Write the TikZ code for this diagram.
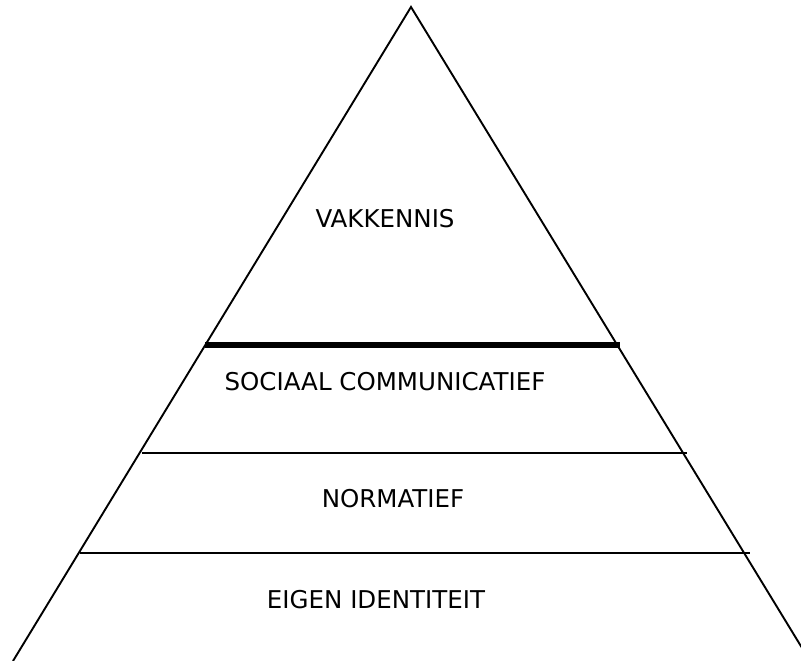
\documentclass[tikz,border=0pt]{standalone}
\usepackage{fontspec}
\setmainfont{DejaVu Sans}
\begin{document}
\begin{tikzpicture}[x=1pt,y=-1pt,
  lbl/.style={font=\fontsize{24.5}{28}\selectfont, inner sep=0pt, anchor=center},
  edge/.style={line width=1.9pt, line join=miter},
  band/.style={line width=2pt},
  thickband/.style={line width=6pt}]
\useasboundingbox (0,0) rectangle (801,661);
\clip (0,0) rectangle (801,661);
\coordinate (apex) at (411,7);
\coordinate (bl) at (13,661);
\coordinate (br) at (810,661);
\draw[edge] (bl) -- (apex) -- (br);
\coordinate (l1a) at (205,345);
\coordinate (l1b) at (620,345);
\draw[thickband] (l1a) -- (l1b);
\coordinate (l2a) at (142,453);
\coordinate (l2b) at (687,453);
\draw[band] (l2a) -- (l2b);
\coordinate (l3a) at (80,553);
\coordinate (l3b) at (750,553);
\draw[band] (l3a) -- (l3b);
\node[lbl] (vak) at (385,219) {VAKKENNIS};
\node[lbl] (soc) at (385,382) {SOCIAAL COMMUNICATIEF};
\node[lbl] (norm) at (393,499) {NORMATIEF};
\node[lbl] (eigen) at (376,600) {EIGEN IDENTITEIT};
\end{tikzpicture}
\end{document}
